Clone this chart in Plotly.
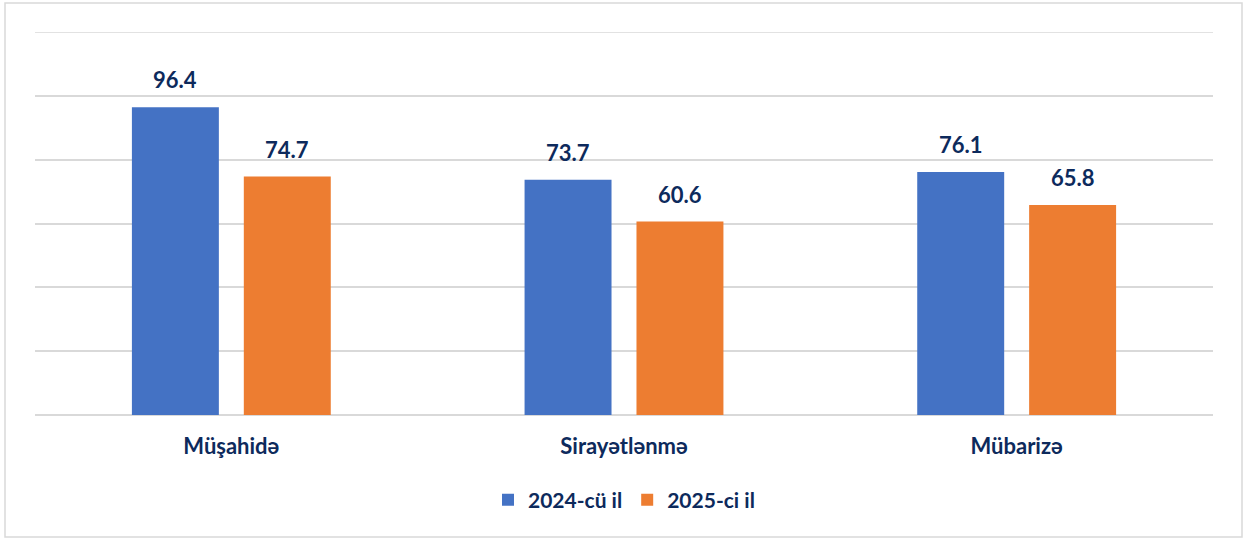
import plotly.graph_objects as go

categories = ["Müşahidə", "Sirayətlənmə", "Mübarizə"]
series_names = ["2024-cü il", "2025-ci il"]
values_2024 = [96.4, 73.7, 76.1]
values_2025 = [74.7, 60.6, 65.8]

colors = ["#4472C4", "#ED7D31"]
text_color = "#0D2A5C"
font_family = "Lato, 'Open Sans', sans-serif"

fig = go.Figure()
for name, vals, col in zip(series_names, [values_2024, values_2025], colors):
    fig.add_trace(go.Bar(
        x=categories, y=vals, name=f"<b>{name}</b>",
        marker=dict(color=col, line=dict(width=0)),
        cliponaxis=False,
    ))

# value labels placed above each bar
offsets = [-56, 56]
annotations = []
for vals, dx in zip([values_2024, values_2025], offsets):
    for c, v in zip(categories, vals):
        annotations.append(dict(x=c, y=v, xref="x", yref="y", text=f"<b>{v:.1f}</b>",
                                showarrow=False, xshift=dx, yshift=12, yanchor="bottom",
                                font=dict(size=22, color=text_color, family=font_family)))

fig.update_layout(
    width=1246, height=539,
    margin=dict(l=35, r=33, t=32, b=124, autoexpand=False),
    paper_bgcolor="white", plot_bgcolor="white",
    barmode="group", bargap=0.43, bargroupgap=0.223,
    font=dict(family=font_family, color=text_color),
    showlegend=True,
    legend=dict(orientation="h", x=0.5, xanchor="center", y=-0.222, yanchor="middle",
                font=dict(size=21, color=text_color, family=font_family),
                traceorder="normal"),
    xaxis=dict(showgrid=False, showline=False, ticks="",
               tickfont=dict(size=22, color=text_color, family=font_family),
               ticklabelstandoff=16,
               tickvals=categories, ticktext=[f"<b>{c}</b>" for c in categories]),
    yaxis=dict(range=[0, 120], dtick=20, showticklabels=False, gridcolor="#D9D9D9",
               gridwidth=1.5, zeroline=True, zerolinecolor="#D9D9D9", zerolinewidth=1.5,
               showline=False, ticks=""),
    annotations=annotations,
    shapes=[
        dict(type="line", xref="paper", yref="y", x0=0, x1=1, y0=120, y1=120,
             line=dict(color="#D9D9D9", width=1.5), layer="below"),
        dict(type="rect", xref="paper", yref="paper",
             x0=(5 - 35) / 1178, x1=(1242 - 35) / 1178,
             y0=(415 - 537) / 383, y1=(415 - 3) / 383,
             line=dict(color="#D9D9D9", width=1.5), fillcolor="rgba(0,0,0,0)"),
    ],
)

fig.write_html("out.html", config={"displayModeBar": False},
               post_script="document.body.style.margin='0';")
